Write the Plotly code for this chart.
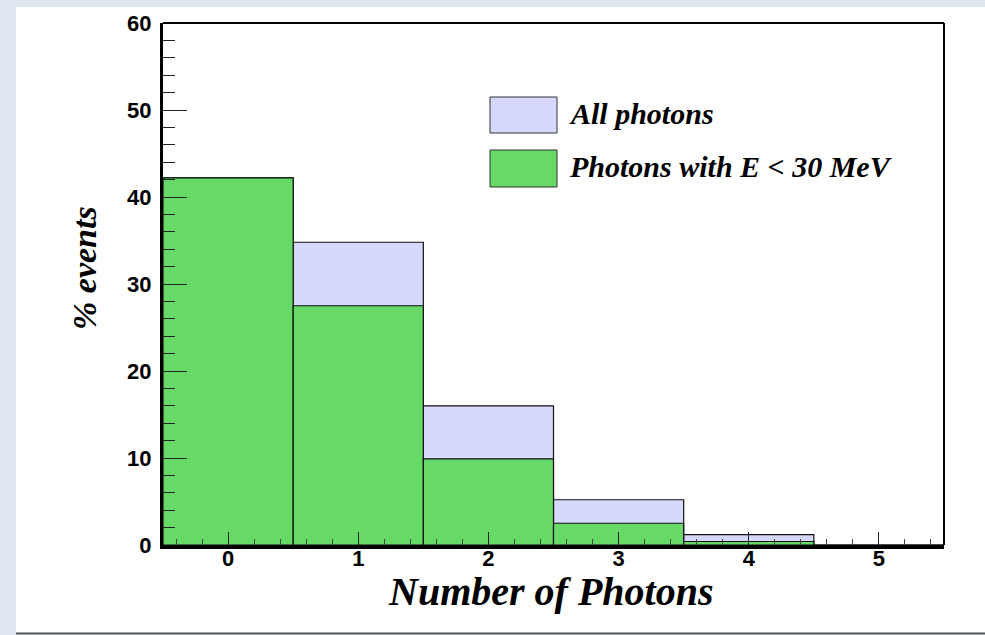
import plotly.graph_objects as go

# Histogram of photon multiplicity per event (% of events)
n_photons = [0, 1, 2, 3, 4, 5]
all_photons = [42.2, 34.8, 16.0, 5.2, 1.2, 0.0]
soft_photons = [42.2, 27.5, 9.9, 2.5, 0.4, 0.0]

series_names = ["All photons", "Photons with E < 30 MeV"]
series_colors = ["#d6d8fc", "#66d966"]

W, H = 985, 635
L, R, T, B = 163, 41, 23, 90
PW, PH = W - L - R, H - T - B


def px(x):
    return (x - L) / PW


def py(y):
    return (H - B - y) / PH


fig = go.Figure()
for vals, name, col in zip([all_photons, soft_photons], series_names, series_colors):
    fig.add_trace(go.Bar(
        x=n_photons, y=vals, name=name, width=1.0,
        marker=dict(color=col, line=dict(color="#111111", width=1.2)),
        showlegend=False,
    ))
# empty trace so the secondary tick axis is laid out
fig.add_trace(go.Scatter(x=[], y=[], yaxis="y2", showlegend=False, hoverinfo="skip"))

shapes = [
    # white slide panel and its bottom edge
    dict(type="rect", xref="paper", yref="paper", x0=px(16), x1=px(990),
         y0=py(632), y1=py(7), fillcolor="white", line=dict(width=0), layer="below"),
    dict(type="line", xref="paper", yref="paper", x0=px(16), x1=px(990),
         y0=py(633.5), y1=py(633.5), line=dict(color="#5a5a5a", width=2), layer="below"),
    # top and right frame of the plot
    dict(type="line", xref="paper", yref="paper", x0=0, x1=1, y0=1, y1=1,
         line=dict(color="black", width=2)),
    dict(type="line", xref="paper", yref="paper", x0=1, x1=1, y0=0, y1=1,
         line=dict(color="black", width=2)),
]

# legend boxes
legend_rows = [(97, 133), (150, 187)]
annotations = []
for (y0, y1), name, col in zip(legend_rows, series_names, series_colors):
    shapes.append(dict(type="rect", xref="paper", yref="paper",
                       x0=px(490), x1=px(557), y0=py(y1), y1=py(y0),
                       fillcolor=col, line=dict(color="#333333", width=1)))
    label = name.replace("<", "&lt;")
    annotations.append(dict(
        xref="paper", yref="paper", x=px(567), y=py((y0 + y1) / 2 - 2),
        xanchor="left", yanchor="middle", showarrow=False,
        text=f"<b><i>{label}</i></b>",
        font=dict(family="Liberation Serif", size=30, color="black"),
    ))

annotations.append(dict(
    xref="paper", yref="paper", x=px(551), y=py(591),
    xanchor="center", yanchor="middle", showarrow=False,
    text="<b><i>Number of Photons</i></b>",
    font=dict(family="Liberation Serif", size=40, color="black"),
))
annotations.append(dict(
    xref="paper", yref="paper", x=px(84), y=py(268),
    xanchor="center", yanchor="middle", showarrow=False, textangle=-90,
    text="<b><i>% events</i></b>",
    font=dict(family="Liberation Serif", size=34, color="black"),
))

tick_font = dict(family="Liberation Sans, Arial", size=22, color="black", weight="bold")
x_minor = [round(-0.4 + 0.2 * i, 1) for i in range(30) if abs(round(-0.4 + 0.2 * i, 1) % 1) > 1e-9]

fig.update_layout(
    width=W, height=H,
    margin=dict(l=L, r=R, t=T, b=B, pad=0),
    barmode="overlay",
    paper_bgcolor="#dfe6ef",
    plot_bgcolor="white",
    shapes=shapes,
    annotations=annotations,
    xaxis=dict(
        range=[-0.5, 5.5], tickmode="linear", tick0=0, dtick=1,
        ticks="inside", ticklen=13, tickwidth=1.2, tickcolor="#222222",
        minor=dict(tickmode="array", tickvals=x_minor, ticks="inside", ticklen=6,
                   tickwidth=1, tickcolor="#444444"),
        showline=True, linecolor="black", linewidth=3.5, showgrid=False, zeroline=False,
        tickfont=tick_font, ticklabelstandoff=-9,
        layer="above traces", fixedrange=True,
    ),
    yaxis=dict(
        range=[0, 60], tickmode="linear", tick0=0, dtick=10,
        ticks="inside", ticklen=24, tickwidth=1.3, tickcolor="#222222",
        showline=True, linecolor="black", linewidth=3, showgrid=False, zeroline=False,
        tickfont=tick_font, ticklabelstandoff=4,
        layer="above traces", fixedrange=True,
    ),
    # secondary left axis carrying only the short ticks every 2 %
    yaxis2=dict(
        overlaying="y", side="left", anchor="x",
        range=[0, 60], tickmode="linear", tick0=0, dtick=2,
        ticks="inside", ticklen=12, tickwidth=1.3, tickcolor="#222222",
        showticklabels=False, showline=False, showgrid=False, zeroline=False,
        layer="above traces", fixedrange=True,
    ),
)

fig.write_html("out.html")
